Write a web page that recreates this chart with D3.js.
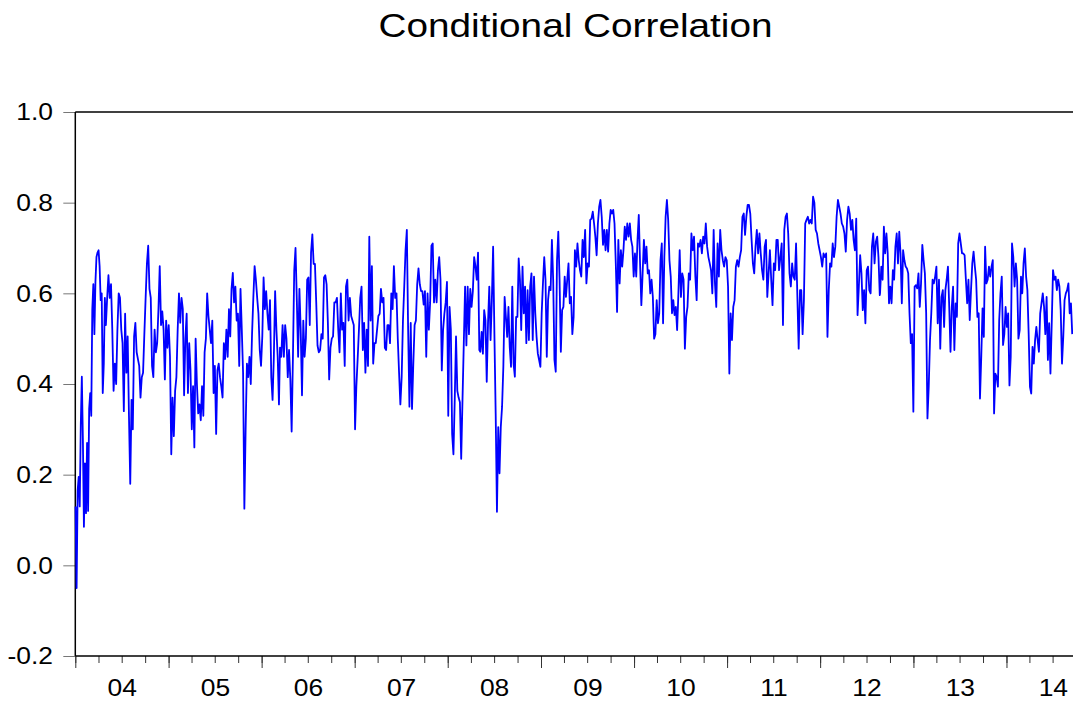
<!DOCTYPE html>
<html>
<head>
<meta charset="utf-8">
<script src="https://d3js.org/d3.v7.min.js"></script>
<style>
  body { margin: 0; background: #fff; }
  svg { display: block; font-family: "Liberation Sans", Arial, sans-serif; }
</style>
</head>
<body>
<div id="chart"></div>
<script>

// observations come in blocks: first date, last date, values evenly spread in between
var blockStarts = ["2004-01-02", "2004-05-05", "2006-03-14", "2008-05-08", "2010-07-04", "2012-08-23"];
var blockEnds   = ["2004-04-30", "2006-03-10", "2008-05-04", "2010-06-29", "2012-08-22", "2014-09-16"];

var block1 = [0.13, -0.05, 0.165, 0.195, 0.13, 0.31, 0.416, 0.28, 0.085, 0.225, 0.115, 0.27, 0.12, 0.345, 0.38,
  0.33, 0.565, 0.62, 0.51, 0.625, 0.68, 0.69, 0.695, 0.66, 0.585, 0.6, 0.38, 0.445, 0.59, 0.53];

var block2 = [0.59, 0.64, 0.59, 0.62, 0.52, 0.385, 0.445, 0.4, 0.52, 0.6, 0.59, 0.52, 0.49, 0.34, 0.555, 0.425,
  0.505, 0.33, 0.18, 0.365, 0.3, 0.505, 0.535, 0.47, 0.455, 0.44, 0.37, 0.415, 0.425, 0.51, 0.59, 0.665, 0.705,
  0.61, 0.59, 0.44, 0.415, 0.52, 0.47, 0.49, 0.565, 0.66, 0.53, 0.56, 0.52, 0.41, 0.54, 0.48, 0.53, 0.46, 0.245,
  0.37, 0.285, 0.385, 0.415, 0.52, 0.6, 0.535, 0.59, 0.565, 0.375, 0.5, 0.555, 0.38, 0.49, 0.43, 0.3, 0.395, 0.26,
  0.5, 0.4, 0.335, 0.355, 0.32, 0.395, 0.33, 0.47, 0.5, 0.6, 0.55, 0.52, 0.49, 0.54, 0.38, 0.44, 0.29, 0.43, 0.445,
  0.415, 0.395, 0.37, 0.49, 0.455, 0.52, 0.46, 0.565, 0.505, 0.61, 0.645, 0.58, 0.615, 0.54, 0.555, 0.44, 0.61,
  0.52, 0.425, 0.125, 0.3, 0.445, 0.415, 0.46, 0.4, 0.51, 0.59, 0.66, 0.63, 0.59, 0.555, 0.475, 0.44, 0.505, 0.635,
  0.565, 0.605, 0.555, 0.52, 0.585, 0.415, 0.365, 0.46, 0.605, 0.52, 0.46, 0.355];

var block3 = [0.48, 0.46, 0.53, 0.46, 0.53, 0.5, 0.415, 0.475, 0.41, 0.295, 0.46, 0.65, 0.7, 0.585, 0.46, 0.61,
  0.52, 0.375, 0.54, 0.46, 0.5, 0.63, 0.635, 0.53, 0.69, 0.73, 0.665, 0.665, 0.58, 0.485, 0.47, 0.475, 0.51, 0.5,
  0.635, 0.64, 0.62, 0.535, 0.41, 0.48, 0.5, 0.505, 0.58, 0.58, 0.59, 0.52, 0.47, 0.6, 0.52, 0.535, 0.44, 0.615,
  0.63, 0.54, 0.59, 0.55, 0.54, 0.53, 0.3, 0.395, 0.455, 0.52, 0.59, 0.615, 0.475, 0.535, 0.425, 0.52, 0.44, 0.725,
  0.54, 0.66, 0.445, 0.49, 0.49, 0.52, 0.55, 0.555, 0.61, 0.58, 0.59, 0.48, 0.475, 0.53, 0.53, 0.49, 0.6, 0.565,
  0.66, 0.59, 0.6, 0.5, 0.425, 0.355, 0.415, 0.54, 0.615, 0.695, 0.74, 0.52, 0.35, 0.535, 0.345, 0.445, 0.53, 0.54,
  0.62, 0.655, 0.62, 0.605, 0.605, 0.575, 0.605, 0.46, 0.6, 0.52, 0.58, 0.705, 0.71, 0.58, 0.63, 0.58, 0.65, 0.68,
  0.63, 0.43, 0.52, 0.555, 0.58, 0.625, 0.33, 0.57, 0.52, 0.29, 0.245, 0.365, 0.505, 0.385, 0.37, 0.36, 0.235,
  0.365, 0.49, 0.615, 0.485, 0.615, 0.51, 0.61, 0.57, 0.605, 0.68, 0.66, 0.63, 0.69, 0.475];

var block4 = [0.471, 0.515, 0.467, 0.563, 0.541, 0.405, 0.534, 0.615, 0.497, 0.585, 0.703, 0.51, 0.335, 0.118,
  0.305, 0.203, 0.305, 0.35, 0.438, 0.592, 0.548, 0.504, 0.57, 0.482, 0.438, 0.615, 0.445, 0.416, 0.548, 0.548,
  0.677, 0.63, 0.519, 0.659, 0.556, 0.615, 0.49, 0.607, 0.497, 0.615, 0.644, 0.497, 0.637, 0.556, 0.504, 0.467,
  0.453, 0.438, 0.556, 0.622, 0.68, 0.63, 0.46, 0.585, 0.615, 0.607, 0.718, 0.63, 0.453, 0.427, 0.673, 0.736, 0.63,
  0.471, 0.563, 0.57, 0.637, 0.592, 0.63, 0.666, 0.578, 0.592, 0.51, 0.548, 0.695, 0.659, 0.71, 0.673, 0.651,
  0.637, 0.718, 0.68, 0.74, 0.622, 0.666, 0.659, 0.762, 0.765, 0.78, 0.754, 0.725, 0.684, 0.754, 0.791, 0.806,
  0.769, 0.707, 0.74, 0.695, 0.74, 0.692, 0.754, 0.784, 0.776, 0.784, 0.754, 0.666, 0.559, 0.718, 0.622, 0.695,
  0.659, 0.695, 0.747, 0.718, 0.754, 0.725, 0.754, 0.718, 0.703, 0.637, 0.688, 0.637, 0.718, 0.773, 0.666, 0.574,
  0.644, 0.718, 0.666, 0.703, 0.644, 0.651, 0.6, 0.63, 0.592, 0.5, 0.51, 0.585, 0.534, 0.556, 0.673, 0.71, 0.534,
  0.68, 0.769, 0.806, 0.762, 0.673, 0.637, 0.556, 0.585, 0.552, 0.57, 0.519, 0.6, 0.695];

var block5 = [0.592, 0.644, 0.63, 0.478, 0.548, 0.57, 0.644, 0.63, 0.732, 0.695, 0.725, 0.637, 0.585, 0.71, 0.703,
  0.718, 0.688, 0.725, 0.71, 0.754, 0.703, 0.68, 0.666, 0.651, 0.6, 0.74, 0.622, 0.57, 0.71, 0.637, 0.74, 0.695,
  0.673, 0.659, 0.68, 0.673, 0.615, 0.423, 0.556, 0.497, 0.57, 0.585, 0.659, 0.673, 0.659, 0.68, 0.695, 0.769,
  0.776, 0.729, 0.769, 0.795, 0.795, 0.776, 0.718, 0.666, 0.644, 0.703, 0.74, 0.688, 0.732, 0.688, 0.651, 0.63,
  0.703, 0.718, 0.592, 0.644, 0.695, 0.63, 0.574, 0.666, 0.651, 0.718, 0.718, 0.651, 0.68, 0.71, 0.53, 0.74, 0.769,
  0.776, 0.732, 0.644, 0.615, 0.666, 0.637, 0.63, 0.71, 0.592, 0.478, 0.607, 0.607, 0.51, 0.585, 0.754, 0.762,
  0.769, 0.754, 0.762, 0.754, 0.813, 0.8, 0.74, 0.732, 0.71, 0.695, 0.68, 0.659, 0.688, 0.68, 0.688, 0.504, 0.607,
  0.666, 0.659, 0.71, 0.68, 0.703, 0.769, 0.806, 0.791, 0.776, 0.754, 0.747, 0.732, 0.692, 0.762, 0.791, 0.776,
  0.74, 0.762, 0.718, 0.695, 0.765, 0.552, 0.615, 0.684, 0.644, 0.563, 0.607, 0.534, 0.651, 0.659, 0.607, 0.6,
  0.703, 0.732, 0.666, 0.714, 0.725, 0.68, 0.596];

var block6 = [0.6, 0.659, 0.63, 0.747, 0.688, 0.732, 0.688, 0.578, 0.615, 0.578, 0.651, 0.63, 0.703, 0.732, 0.666,
  0.736, 0.688, 0.578, 0.695, 0.673, 0.659, 0.655, 0.644, 0.556, 0.49, 0.51, 0.339, 0.615, 0.618, 0.611, 0.644,
  0.57, 0.622, 0.707, 0.673, 0.644, 0.556, 0.324, 0.394, 0.497, 0.556, 0.63, 0.622, 0.637, 0.659, 0.534, 0.63,
  0.478, 0.592, 0.607, 0.526, 0.607, 0.63, 0.659, 0.57, 0.471, 0.57, 0.615, 0.475, 0.578, 0.548, 0.71, 0.732, 0.71,
  0.688, 0.688, 0.684, 0.63, 0.578, 0.63, 0.541, 0.607, 0.666, 0.692, 0.659, 0.63, 0.548, 0.556, 0.368, 0.46,
  0.567, 0.504, 0.703, 0.622, 0.63, 0.659, 0.637, 0.659, 0.673, 0.335, 0.423, 0.416, 0.394, 0.541, 0.6, 0.637,
  0.486, 0.51, 0.57, 0.526, 0.556, 0.397, 0.46, 0.71, 0.68, 0.615, 0.666, 0.63, 0.5, 0.519, 0.637, 0.6, 0.666,
  0.699, 0.637, 0.607, 0.51, 0.394, 0.379, 0.482, 0.445, 0.497, 0.526, 0.497, 0.471, 0.556, 0.578, 0.6, 0.57, 0.51,
  0.592, 0.453, 0.534, 0.423, 0.534, 0.651, 0.63, 0.637, 0.607, 0.63, 0.615, 0.563, 0.445, 0.504, 0.585, 0.6,
  0.607, 0.622, 0.556, 0.578, 0.51];

// axis settings
var axisStart = "2004-01-01";
var axisEnd = "2014-09-19";
var yTicks = [-0.2, 0.0, 0.2, 0.4, 0.6, 0.8, 1.0];
var chartTitle = "Conditional Correlation";

window.onload = function () {

  var parseDate = d3.timeParse("%Y-%m-%d");

  // spread every block of values over its date span
  var blocks = [block1, block2, block3, block4, block5, block6];
  var series = [];
  blocks.forEach(function (values, b) {
    var t0 = parseDate(blockStarts[b]).getTime();
    var t1 = parseDate(blockEnds[b]).getTime();
    values.forEach(function (v, i) {
      series.push({ date: new Date(t0 + (t1 - t0) * i / (values.length - 1)), value: v });
    });
  });

  var width = 1073, height = 704;
  var left = 75.3, right = 1073, top = 112, bottom = 656;

  var svg = d3.select("#chart")
              .append("svg")
                .attr("width", width)
                .attr("height", height);

  var x = d3.scaleTime()
            .domain([parseDate(axisStart), parseDate(axisEnd)])
            .range([left, right]);

  var y = d3.scaleLinear()
            .domain([-0.2, 1.0])
            .range([bottom, top]);

  // title
  svg.append("text")
     .attr("transform", "translate(575.5,37) scale(1.14,1)")
     .attr("text-anchor", "middle")
     .style("font-size", "34px")
     .attr("fill", "#000")
     .text(chartTitle);

  // quarterly minor ticks
  svg.append("g")
     .attr("transform", "translate(0," + bottom + ")")
     .call(d3.axisBottom(x)
        .ticks(d3.timeMonth.every(3))
        .tickSize(7)
        .tickSizeOuter(0)
        .tickFormat(""))
     .call(function (g) { g.select(".domain").remove(); })
     .selectAll("line").attr("stroke", "#333");

  // yearly major ticks
  svg.append("g")
     .attr("transform", "translate(0," + bottom + ")")
     .call(d3.axisBottom(x)
        .ticks(d3.timeYear.every(1))
        .tickSize(12)
        .tickSizeOuter(0)
        .tickFormat(""))
     .call(function (g) { g.select(".domain").remove(); })
     .selectAll("line").attr("stroke", "#333");

  // year labels centred in each year
  var midYears = d3.timeYear.range(parseDate("2004-01-01"), parseDate("2015-01-01"))
                   .map(function (d) { return d3.timeDay.offset(d, 182); });

  var xLabels = svg.append("g")
     .attr("transform", "translate(0," + bottom + ")")
     .call(d3.axisBottom(x)
        .tickValues(midYears)
        .tickSize(0)
        .tickPadding(23)
        .tickFormat(d3.timeFormat("%y")));
  xLabels.select(".domain").remove();
  xLabels.selectAll("text")
     .style("font-size", "24px")
     .style("font-family", "'Liberation Sans', Arial, sans-serif")
     .attr("fill", "#000")
     .attr("transform", "scale(1.1,1)");

  // y axis
  var yAxis = svg.append("g")
     .attr("transform", "translate(" + left + ",0)")
     .call(d3.axisLeft(y)
        .tickValues(yTicks)
        .tickSize(12)
        .tickSizeOuter(0)
        .tickFormat(function (d) { return d.toFixed(1); }));
  yAxis.select(".domain").remove();
  yAxis.selectAll("line").attr("stroke", "#777");
  yAxis.selectAll("text")
     .style("font-size", "24px")
     .style("font-family", "'Liberation Sans', Arial, sans-serif")
     .attr("fill", "#000")
     .attr("x", -20.3)
     .attr("transform", "scale(1.1,1)");

  // frame: left, top and bottom lines
  var frame = svg.append("g")
     .attr("stroke", "#000")
     .attr("stroke-width", 1.5)
     .attr("fill", "none");
  frame.append("line").attr("x1", left).attr("x2", left).attr("y1", top).attr("y2", bottom);
  frame.append("line").attr("x1", left).attr("x2", right).attr("y1", top).attr("y2", top);
  frame.append("line").attr("x1", left).attr("x2", right).attr("y1", bottom).attr("y2", bottom);

  // correlation line
  var line = d3.line()
     .x(function (d) { return x(d.date); })
     .y(function (d) { return y(d.value); });

  svg.append("path")
     .datum(series)
     .attr("d", line)
     .attr("fill", "none")
     .attr("stroke", "#0000ff")
     .attr("stroke-width", 1.8)
     .attr("stroke-linejoin", "round");

};

</script>
</body>
</html>
